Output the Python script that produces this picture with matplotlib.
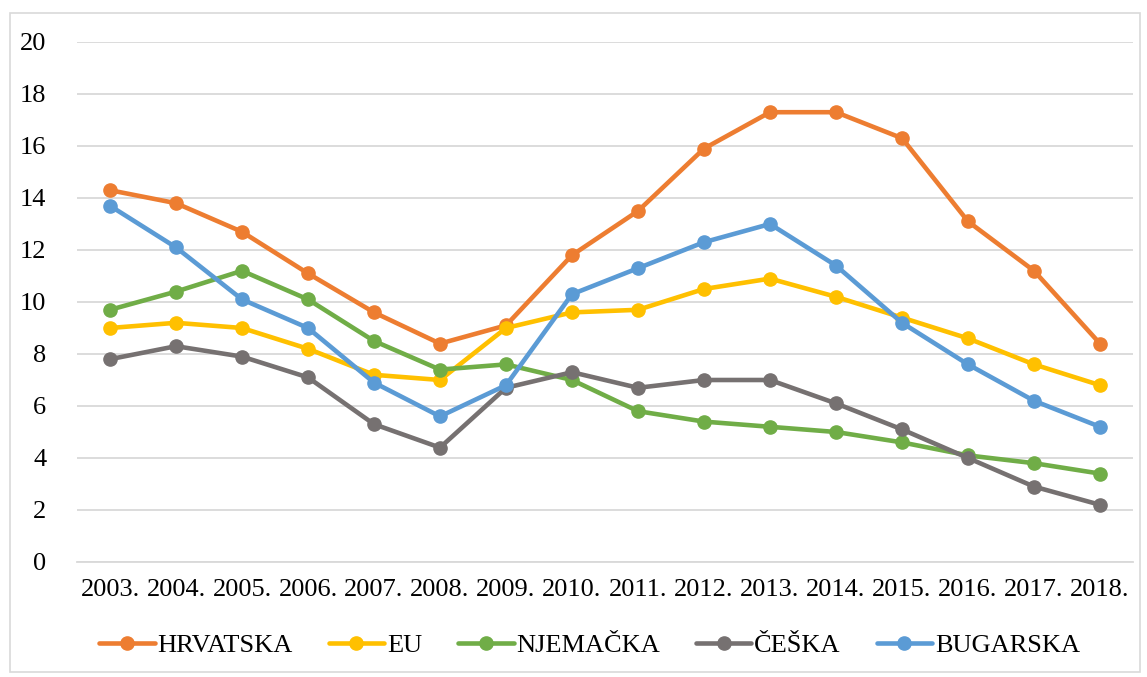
import matplotlib.pyplot as plt
from matplotlib.patches import Rectangle

# --- Dados ---
godine = ['2003.', '2004.', '2005.', '2006.', '2007.', '2008.', '2009.', '2010.',
          '2011.', '2012.', '2013.', '2014.', '2015.', '2016.', '2017.', '2018.']
hrvatska = [14.3, 13.8, 12.7, 11.1, 9.6, 8.4, 9.1, 11.8, 13.5, 15.9, 17.3, 17.3, 16.3, 13.1, 11.2, 8.4]
eu = [9.0, 9.2, 9.0, 8.2, 7.2, 7.0, 9.0, 9.6, 9.7, 10.5, 10.9, 10.2, 9.4, 8.6, 7.6, 6.8]
njemacka = [9.7, 10.4, 11.2, 10.1, 8.5, 7.4, 7.6, 7.0, 5.8, 5.4, 5.2, 5.0, 4.6, 4.1, 3.8, 3.4]
ceska = [7.8, 8.3, 7.9, 7.1, 5.3, 4.4, 6.7, 7.3, 6.7, 7.0, 7.0, 6.1, 5.1, 4.0, 2.9, 2.2]
bugarska = [13.7, 12.1, 10.1, 9.0, 6.9, 5.6, 6.8, 10.3, 11.3, 12.3, 13.0, 11.4, 9.2, 7.6, 6.2, 5.2]

serije = [
    ('HRVATSKA', hrvatska, '#ED7D31'),
    ('EU', eu, '#FFC000'),
    ('NJEMAČKA', njemacka, '#70AD47'),
    ('ČEŠKA', ceska, '#767171'),
    ('BUGARSKA', bugarska, '#5B9BD5'),
]

plt.rcParams['font.family'] = ['Liberation Serif', 'DejaVu Serif']

fig = plt.figure(figsize=(11.47, 6.77), dpi=100)
ax = fig.add_axes([77 / 1147, 1 - 562 / 677, (1133 - 77) / 1147, (562 - 42) / 677])

# okvir oko grafikona
fig.patches.append(Rectangle((10 / 1147, 1 - 672 / 677), 1130 / 1147, 659 / 677,
                             transform=fig.transFigure, fill=False,
                             edgecolor='#D9D9D9', linewidth=1.2))

x = list(range(len(godine)))
for naziv, vrijednosti, boja in serije:
    ax.plot(x, vrijednosti, color=boja, linewidth=3.3, marker='o', markersize=9.5,
            label=naziv, solid_capstyle='round', solid_joinstyle='round')

ax.set_xlim(-0.5, len(godine) - 0.5)
ax.set_ylim(0, 20)
ax.set_yticks(range(0, 21, 2))
ax.set_xticks(x)
ax.set_xticklabels(godine)
ax.grid(axis='y', color='#D9D9D9', linewidth=1.3)
ax.set_axisbelow(True)
for s in ['top', 'right', 'left']:
    ax.spines[s].set_visible(False)
ax.spines['bottom'].set_color('#D9D9D9')
ax.spines['bottom'].set_linewidth(1.3)
ax.tick_params(axis='both', length=0, labelsize=19, colors='black')
ax.tick_params(axis='x', pad=12)
ax.tick_params(axis='y', pad=22)

fig.legend(loc='center', bbox_to_anchor=(0.514, 1 - 645 / 677), ncol=5, frameon=False,
           fontsize=19, handlelength=2.1, handletextpad=0.1, columnspacing=1.37)

plt.savefig('out.png', dpi=100)
plt.close()
